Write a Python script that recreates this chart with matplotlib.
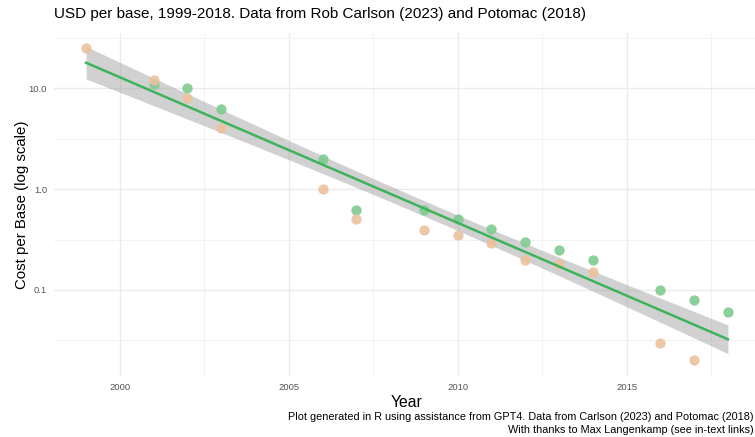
import numpy as np
import matplotlib
matplotlib.use("Agg")
from matplotlib import pyplot as plt

# Carlson (2023) - green
carlson_years = [2001, 2002, 2003, 2006, 2007, 2009, 2010, 2011, 2012, 2013, 2014, 2016, 2017, 2018]
carlson_cost = [11, 10, 6.2, 2.0, 0.62, 0.62, 0.5, 0.4, 0.3, 0.25, 0.2, 0.1, 0.08, 0.06]

# Potomac (2018) - orange
potomac_years = [1999, 2001, 2002, 2003, 2006, 2007, 2009, 2010, 2011, 2012, 2013, 2014, 2016, 2017]
potomac_cost = [25, 12, 8, 4.0, 1.0, 0.5, 0.39, 0.35, 0.29, 0.2, 0.18, 0.15, 0.03, 0.02]

x_ticks = [2000, 2005, 2010, 2015]
y_ticks = [0.1, 1.0, 10.0]
y_tick_labels = ["0.1", "1.0", "10.0"]

plt.rcParams['font.family'] = ['Liberation Sans', 'DejaVu Sans']

# linear fit of log10(cost) on year, both sources together
xs = np.array(carlson_years + potomac_years, dtype=float)
ys = np.log10(np.array(carlson_cost + potomac_cost))
n = len(xs)
slope, icept = np.polyfit(xs, ys, 1)
resid = ys - (slope * xs + icept)
s = np.sqrt(np.sum(resid ** 2) / (n - 2))
sxx = np.sum((xs - xs.mean()) ** 2)
t95 = 2.056  # t quantile, df = 26
xf = np.linspace(xs.min(), xs.max(), 80)
yf = slope * xf + icept
se = s * np.sqrt(1.0 / n + (xf - xs.mean()) ** 2 / sxx)

fig = plt.figure(figsize=(7.55, 4.37), dpi=100)
ax = fig.add_axes([54 / 755, 1 - 376 / 437, 706 / 755, 343 / 437])

ax.fill_between(xf, 10 ** (yf - t95 * se), 10 ** (yf + t95 * se), color='#999999', alpha=0.45, lw=0, zorder=2)
ax.scatter(carlson_years, carlson_cost, s=55, color='#7fcb90', alpha=0.9, lw=0, zorder=3)
ax.scatter(potomac_years, potomac_cost, s=55, color='#ebc29d', alpha=0.9, lw=0, zorder=3)
ax.plot(xf, 10 ** yf, color='#3db35b', lw=1.8, zorder=4)

ax.set_yscale('log')
ax.set_xlim(1998.05, 2018.95)
ax.set_ylim(10 ** -1.855, 10 ** 1.55)
ax.set_xticks(x_ticks)
ax.set_xticklabels([str(v) for v in x_ticks])
ax.set_yticks(y_ticks)
ax.set_yticklabels(y_tick_labels)
ax.minorticks_off()
ax.set_xticks([2002.5, 2007.5, 2012.5, 2017.5], minor=True)
ax.set_yticks([10 ** -1.5, 10 ** -0.5, 10 ** 0.5, 10 ** 1.5], minor=True)
ax.yaxis.set_minor_formatter(matplotlib.ticker.NullFormatter())
ax.xaxis.set_minor_formatter(matplotlib.ticker.NullFormatter())
ax.grid(True, which='major', color='#ebebeb', lw=1.0)
ax.grid(True, which='minor', color='#f2f2f2', lw=0.7)
ax.set_axisbelow(True)
ax.tick_params(which='both', length=0, labelsize=6.8, labelcolor='#555555', pad=5)
for sp in ax.spines.values():
    sp.set_visible(False)

ax.set_xlabel('Year', fontsize=11.3, labelpad=2)
ax.set_ylabel('Cost per Base (log scale)', fontsize=10.8, labelpad=0)

fig.text(54 / 755, 1 - 14 / 437, 'USD per base, 1999-2018. Data from Rob Carlson (2023) and Potomac (2018)',
         fontsize=11.0, ha='left', va='center')
fig.text(754 / 755, 1 - 412 / 437,
         'Plot generated in R using assistance from GPT4. Data from Carlson (2023) and Potomac (2018)\n'
         'With thanks to Max Langenkamp (see in-text links)',
         fontsize=7.85, ha='right', va='top', linespacing=1.35)

fig.savefig('out.png', dpi=100)
